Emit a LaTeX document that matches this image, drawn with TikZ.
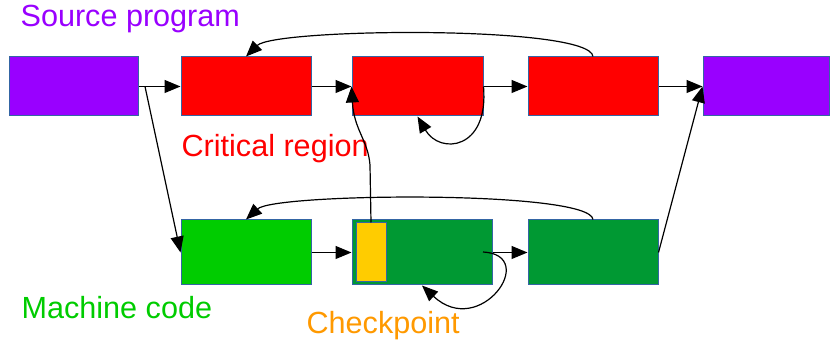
\documentclass[tikz,border=0pt]{standalone}
\usepackage{fontspec}
\setmainfont{Liberation Sans}
\usetikzlibrary{positioning}
\usetikzlibrary{arrows.meta}

\definecolor{srcpurple}{HTML}{9900FF}
\definecolor{critred}{HTML}{FF0000}
\definecolor{mcgreen}{HTML}{00CC00}
\definecolor{mcdark}{HTML}{009933}
\definecolor{chkyellow}{HTML}{FFCC00}
\definecolor{chkorange}{HTML}{FF9900}
\definecolor{boxedge}{HTML}{3465A4}

\begin{document}
\begin{tikzpicture}[x=0.5pt,y=-0.5pt,
        box/.style={draw=boxedge, line width=0.5pt, inner sep=0pt,
                    minimum width=65pt, minimum height=29.5pt},
        caption/.style={inner sep=0pt, anchor=base west,
                        font=\fontsize{15.3}{18}\selectfont},
        >={Triangle[length=8pt,width=6.5pt]}, line width=0.6pt]
    \useasboundingbox (0,0) rectangle (831,340);

    % Top row: source program and critical region
    \node[box, fill=srcpurple, minimum width=64.5pt] (src) at (73.5,86.5) {};
    \node[box, fill=critred] (crit1) at (246,86.5) {};
    \node[box, fill=critred, minimum width=65.5pt] (crit2) at (417.5,86.5) {};
    \node[box, fill=critred] (crit3) at (593,86.5) {};
    \node[box, fill=srcpurple, minimum width=63pt] (out) at (766,86.5) {};

    % Bottom row: machine code with the checkpoint
    \node[box, fill=mcgreen, minimum height=32.5pt] (mc1) at (246,252.5) {};
    \node[box, fill=mcdark, minimum width=70pt, minimum height=32.5pt] (mc2) at (422,252.5) {};
    \node[box, fill=chkyellow, minimum width=15pt] (chk) at (371,252.5) {};
    \node[box, fill=mcdark, minimum height=32.5pt] (mc3) at (593,252.5) {};

    % Labels
    \node[caption, text=srcpurple] (srclabel) at (20,27) {Source program};
    \node[caption, text=critred] (critlabel) at (181,157) {Critical region};
    \node[caption, text=mcgreen] (mclabel) at (21,319) {Machine code};
    \node[caption, text=chkorange] (chklabel) at (306,334) {Checkpoint};

    % Forward edges
    \coordinate (split) at (145,86.5);
    \draw[->] (src.east) -- (crit1.west);
    \draw[->] (split) -- (mc1.west);
    \draw[->] (crit1.east) -- (crit2.west);
    \draw[->] (crit2.east) -- (crit3.west);
    \draw[->] (crit3.east) -- (out.west);
    \draw[->] (mc1.east) -- (mc2.west);
    \draw[->] (mc2.east) -- (mc3.west);
    \draw[->] (mc3.east) -- (out.west);

    % Loops and back edges
    \draw[->] (crit2.east) .. controls (489,150) and (440,155) .. (crit2.south);
    \draw[->] (crit3.north) .. controls (590,25) and (275,28) .. (crit1.north);
    \coordinate (loopstart) at (483,252);
    \draw[->] (loopstart) .. controls (540,255) and (480,340) .. (mc2.south);
    \draw[->] (mc3.north) .. controls (590,190) and (275,193) .. (mc1.north);

    % Checkpoint back into the critical region
    \draw[->] (chk.north) -- (370,165) .. controls (368,140) and (354,130) .. (crit2.west);
\end{tikzpicture}
\end{document}
